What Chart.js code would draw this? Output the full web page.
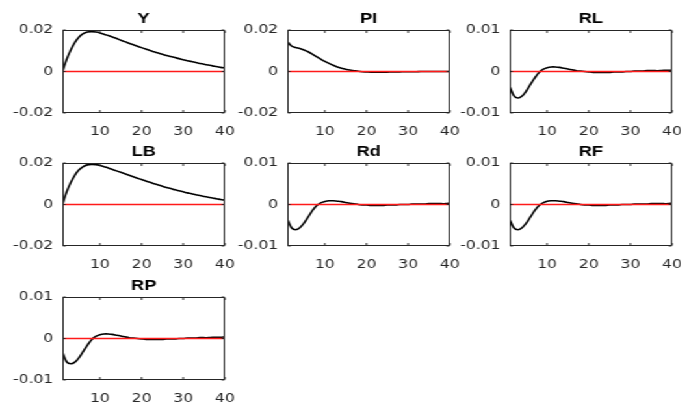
<!DOCTYPE html>
<html>
<head>
<meta charset="utf-8">
<title>Impulse responses</title>
<script src="https://cdn.jsdelivr.net/npm/chart.js@4.4.0/dist/chart.umd.min.js"></script>
<style>
  html, body { margin: 0; padding: 0; background: #fff; }
  body { width: 681px; height: 403px; overflow: hidden; position: relative; }
  /* the reference is stretched sideways, so the whole page is too */
  #page { position: absolute; left: 0; top: 0; width: 524px; height: 403px; transform: scaleX(1.3); transform-origin: 0 0; }
  #page canvas { position: absolute; }
</style>
</head>
<body>
<div id="page"></div>
<script>
// Horizon (periods) and tick labels
const periods = [1, 2, 3, 4, 5, 6, 7, 8, 9, 10, 11, 12, 13, 14, 15, 16, 17, 18, 19, 20,
  21, 22, 23, 24, 25, 26, 27, 28, 29, 30, 31, 32, 33, 34, 35, 36, 37, 38, 39, 40];
const xTicks = [10, 20, 30, 40];
const ticksWide = [-0.02, 0, 0.02];
const ticksNarrow = [-0.01, 0, 0.01];

// Responses
const respY = [0.0000, 0.0058, 0.0104, 0.0140, 0.0166, 0.0182, 0.0190, 0.0192, 0.0190, 0.0186,
  0.0180, 0.0173, 0.0166, 0.0159, 0.0151, 0.0144, 0.0136, 0.0129, 0.0122, 0.0115,
  0.0108, 0.0101, 0.0095, 0.0089, 0.0083, 0.0077, 0.0072, 0.0067, 0.0062, 0.0057,
  0.0052, 0.0048, 0.0043, 0.0039, 0.0035, 0.0031, 0.0027, 0.0024, 0.0020, 0.0017];
const respPI = [0.0144, 0.0123, 0.0116, 0.0111, 0.0104, 0.0095, 0.0084, 0.0072, 0.0060, 0.0049,
  0.0039, 0.0030, 0.0022, 0.0016, 0.0011, 0.0007, 0.0004, 0.0001, -0.0001, -0.0002,
  -0.0003, -0.0003, -0.0003, -0.0003, -0.0003, -0.0002, -0.0002, -0.0002, -0.0001, -0.0001,
  -0.0001, -0.0001, 0.0000, 0.0000, 0.0000, 0.0000, 0.0000, 0.0000, 0.0000, 0.0000];
const respRL = [-0.0035, -0.0058, -0.0064, -0.0059, -0.0047, -0.0031, -0.0016, -0.0003, 0.0005, 0.0009,
  0.0011, 0.0011, 0.0010, 0.0008, 0.0006, 0.0004, 0.0002, 0.0001, 0.0000, -0.0001,
  -0.0002, -0.0002, -0.0002, -0.0002, -0.0002, -0.0001, -0.0001, -0.0001, 0.0000, 0.0000,
  0.0001, 0.0001, 0.0001, 0.0002, 0.0002, 0.0002, 0.0002, 0.0003, 0.0003, 0.0003];
const respLB = [0.0000, 0.0060, 0.0106, 0.0142, 0.0167, 0.0183, 0.0191, 0.0193, 0.0192, 0.0188,
  0.0182, 0.0176, 0.0169, 0.0162, 0.0155, 0.0148, 0.0141, 0.0134, 0.0127, 0.0120,
  0.0113, 0.0107, 0.0100, 0.0094, 0.0088, 0.0082, 0.0077, 0.0071, 0.0066, 0.0061,
  0.0056, 0.0052, 0.0047, 0.0043, 0.0039, 0.0035, 0.0031, 0.0028, 0.0024, 0.0021];
const respRd = [-0.0035, -0.0056, -0.0061, -0.0056, -0.0045, -0.0030, -0.0015, -0.0003, 0.0004, 0.0007,
  0.0009, 0.0009, 0.0008, 0.0007, 0.0005, 0.0003, 0.0002, 0.0000, -0.0001, -0.0001,
  -0.0002, -0.0002, -0.0002, -0.0002, -0.0001, -0.0001, -0.0001, 0.0000, 0.0000, 0.0000,
  0.0001, 0.0001, 0.0001, 0.0001, 0.0002, 0.0002, 0.0002, 0.0002, 0.0002, 0.0003];
const respRF = [-0.0035, -0.0056, -0.0061, -0.0056, -0.0045, -0.0030, -0.0015, -0.0003, 0.0004, 0.0008,
  0.0009, 0.0009, 0.0008, 0.0007, 0.0005, 0.0003, 0.0002, 0.0000, -0.0001, -0.0001,
  -0.0002, -0.0002, -0.0002, -0.0002, -0.0001, -0.0001, -0.0001, 0.0000, 0.0000, 0.0000,
  0.0001, 0.0001, 0.0001, 0.0001, 0.0002, 0.0002, 0.0002, 0.0002, 0.0002, 0.0003];
const respRP = [-0.0033, -0.0056, -0.0061, -0.0057, -0.0046, -0.0031, -0.0016, -0.0003, 0.0005, 0.0009,
  0.0011, 0.0011, 0.0010, 0.0008, 0.0006, 0.0004, 0.0002, 0.0001, 0.0000, -0.0001,
  -0.0002, -0.0002, -0.0002, -0.0002, -0.0002, -0.0001, -0.0001, -0.0001, 0.0000, 0.0000,
  0.0001, 0.0001, 0.0001, 0.0002, 0.0002, 0.0002, 0.0003, 0.0003, 0.0003, 0.0004];

const panels = [
  { title: 'Y', values: respY, yTicks: ticksWide, col: 0, row: 0 },
  { title: 'PI', values: respPI, yTicks: ticksWide, col: 1, row: 0 },
  { title: 'RL', values: respRL, yTicks: ticksNarrow, col: 2, row: 0 },
  { title: 'LB', values: respLB, yTicks: ticksWide, col: 0, row: 1 },
  { title: 'Rd', values: respRd, yTicks: ticksNarrow, col: 1, row: 1 },
  { title: 'RF', values: respRF, yTicks: ticksNarrow, col: 2, row: 1 },
  { title: 'RP', values: respRP, yTicks: ticksNarrow, col: 0, row: 2 },
];

// subplot placement (final page pixels)
const stretch = 1.3;
const colLeft = [62, 287, 510];
const rowTop = [30, 163, 297];
const plotW = 162, plotH = 83;
// padRight has to cover half of the "40" label plus the tick padding
const axisW = 45, titleH = 25, xAxisH = 24, padRight = 22;
const ink = '#262626';

// MATLAB style box with inward ticks
const boxPlugin = {
  id: 'matlabBox',
  afterDraw(chart) {
    const { ctx, chartArea: a, scales } = chart;
    const l = Math.round(a.left) + 0.5, r = Math.round(a.right) - 0.5;
    const t = Math.round(a.top) + 0.5, b = Math.round(a.bottom) - 0.5;
    ctx.save();
    ctx.strokeStyle = ink;
    ctx.lineWidth = 1;
    ctx.beginPath();
    scales.x.ticks.forEach((tk) => {
      const px = scales.x.getPixelForValue(tk.value);
      ctx.moveTo(px, b); ctx.lineTo(px, b - 2.5);
      ctx.moveTo(px, t); ctx.lineTo(px, t + 2.5);
    });
    scales.y.ticks.forEach((tk) => {
      const py = scales.y.getPixelForValue(tk.value);
      ctx.moveTo(l, py); ctx.lineTo(l + 2, py);
      ctx.moveTo(r, py); ctx.lineTo(r - 2, py);
    });
    ctx.stroke();
    ctx.strokeRect(l, t, r - l, b - t);
    ctx.restore();
  },
};

const page = document.getElementById('page');

panels.forEach((p) => {
  const canvas = document.createElement('canvas');
  const w = Math.round(plotW / stretch) + axisW + padRight;
  const h = titleH + plotH + xAxisH;
  canvas.width = w;
  canvas.height = h;
  canvas.style.left = (colLeft[p.col] / stretch - axisW) + 'px';
  canvas.style.top = (rowTop[p.row] - titleH) + 'px';
  page.appendChild(canvas);

  const lim = p.yTicks[p.yTicks.length - 1];

  new Chart(canvas.getContext('2d'), {
    type: 'line',
    data: {
      datasets: [
        {
          data: periods.map((x) => ({ x, y: 0 })),
          borderColor: '#ff1a1a',
          borderWidth: 1.4,
          pointRadius: 0,
        },
        {
          data: periods.map((x, i) => ({ x, y: p.values[i] })),
          borderColor: '#000000',
          borderWidth: 1.6,
          pointRadius: 0,
          tension: 0.3,
        },
      ],
    },
    options: {
      responsive: false,
      animation: false,
      layout: { padding: { top: 0, left: 0, right: padRight, bottom: 0 } },
      plugins: {
        legend: { display: false },
        tooltip: { enabled: false },
        title: {
          display: true,
          text: p.title,
          fullSize: false,
          color: '#000',
          font: { family: 'Liberation Sans', size: 14, weight: 'bold', lineHeight: 1.2 },
          padding: { top: 6, bottom: 2.2 },
        },
      },
      scales: {
        x: {
          type: 'linear',
          min: 1,
          max: 40,
          afterBuildTicks: (scale) => { scale.ticks = xTicks.map((v) => ({ value: v })); },
          afterFit: (scale) => { scale.height = xAxisH; },
          grid: { display: false, drawTicks: false },
          border: { display: false },
          ticks: {
            color: ink,
            padding: 12,
            maxRotation: 0,
            font: { family: 'DejaVu Sans', size: 12 },
            callback: (v) => String(v),
          },
        },
        y: {
          min: -lim,
          max: lim,
          afterBuildTicks: (scale) => { scale.ticks = p.yTicks.map((v) => ({ value: v })); },
          afterFit: (scale) => { scale.width = axisW; },
          grid: { display: false, drawTicks: false },
          border: { display: false },
          ticks: {
            color: ink,
            padding: 7,
            font: { family: 'DejaVu Sans', size: 12 },
            callback: (v) => String(v),
          },
        },
      },
    },
    plugins: [boxPlugin],
  });
});
</script>
</body>
</html>
